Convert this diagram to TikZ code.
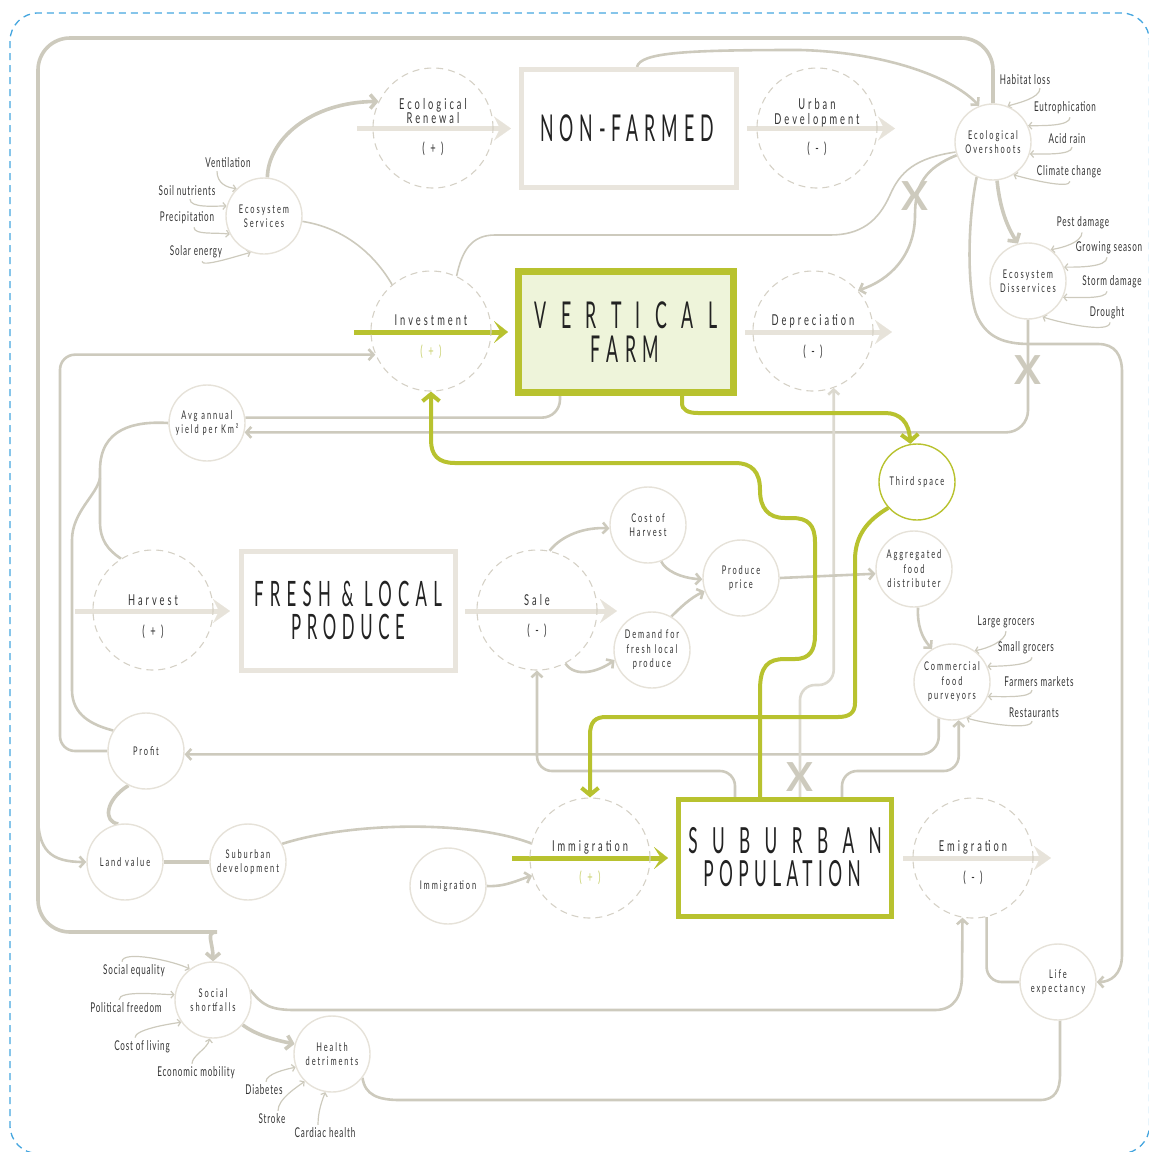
\documentclass[tikz,border=0pt]{standalone}
\usepackage{fontspec}
\usetikzlibrary{arrows.meta,calc}
\setmainfont{Lato}
\newfontfamily\lblfont{Lato}[FakeStretch=0.6,LetterSpace=6]
\newfontfamily\auxfont{Lato}[FakeStretch=0.62,LetterSpace=16]
\newfontfamily\ratefont{Lato}[FakeStretch=0.62,LetterSpace=20]
\newfontfamily\stockfont{Lato}[FakeStretch=0.48]
\newfontfamily\crossfont{Lato}
\newcommand\stocktitle[3]{{\stockfont\addfontfeatures{LetterSpace=#1}\fontsize{#2}{#2}\selectfont #3}}

\definecolor{linec}{HTML}{CDCABD}
\definecolor{lightlinec}{HTML}{DCD9CF}
\definecolor{greenc}{HTML}{B8C22F}
\definecolor{greenfill}{HTML}{EEF4DA}
\definecolor{signgreen}{HTML}{C9D170}
\definecolor{stockc}{HTML}{E9E5DD}
\definecolor{flowc}{HTML}{E7E3DA}
\definecolor{dashc}{HTML}{D5D1C6}
\definecolor{auxc}{HTML}{E6E2D9}
\definecolor{txtc}{HTML}{333333}
\definecolor{titlec}{HTML}{222222}
\definecolor{bluec}{HTML}{45A6DF}

\pgfdeclarelayer{bg}
\pgfsetlayers{bg,main}

\tikzset{
  rate/.style={circle, draw=dashc, line width=1.1pt, dash pattern=on 7pt off 5pt, minimum size=120pt, inner sep=0pt},
  aux/.style={circle, draw=auxc, fill=white, line width=1.4pt, minimum size=76pt, inner sep=0pt, align=center, text=txtc, font=\auxfont\fontsize{12}{14.5}\selectfont},
  greenaux/.style={aux, draw=greenc},
  stockbox/.style={rectangle, draw=stockc, line width=5pt, inner sep=0pt},
  farmbox/.style={rectangle, draw=greenc, fill=greenfill, line width=7pt, inner sep=0pt},
  popbox/.style={rectangle, draw=greenc, fill=white, line width=5pt, inner sep=0pt},
  stocktext/.style={text=titlec, inner sep=0pt},
  ratetext/.style={text=txtc, inner sep=0pt, align=center, font=\ratefont\fontsize{15}{14.5}\selectfont},
  signtext/.style={text=txtc, inner sep=0pt, font=\ratefont\fontsize{15}{15}\selectfont},
  lbl/.style={text=txtc, inner sep=0pt, font=\lblfont\fontsize{13.5}{15}\selectfont},
  crossmark/.style={text=linec, inner sep=0pt, font=\crossfont\bfseries\fontsize{40}{40}\selectfont},
  flow/.style={draw=flowc, line width=5pt, -{Stealth[length=17pt, width=24pt, inset=6pt, line width=0.1pt]}},
  greenflow/.style={draw=greenc, line width=5pt, -{Stealth[length=14pt, width=22pt, inset=7pt, line width=0.1pt]}},
  conn/.style={draw=linec, line width=2.6pt},
  connthick/.style={draw=linec, line width=3.6pt},
  connthin/.style={draw=linec, line width=1.6pt},
  connlight/.style={draw=lightlinec, line width=2.6pt},
  tip/.style={-{Straight Barb[length=5pt, width=11pt]}},
  bigtip/.style={-{Straight Barb[length=6pt, width=14pt]}},
  feed/.style={draw=linec, line width=1.2pt, -{Straight Barb[length=3pt, width=7pt]}},
  greenline/.style={draw=greenc, line width=4pt},
  greentip/.style={-{Straight Barb[length=7pt, width=17pt]}},
}

\begin{document}
\begin{tikzpicture}[x=1pt,y=-1pt]
\useasboundingbox (0,0) rectangle (1149,1152);

% ---------- stocks ----------
\node[stockbox, minimum width=215pt, minimum height=118pt] (nf) at (629,128.5) {};
\node[farmbox,  minimum width=215pt, minimum height=121pt] (vf) at (626,332) {};
\node[stockbox, minimum width=214pt, minimum height=119pt] (fr) at (348.5,611) {};
\node[popbox,   minimum width=213pt, minimum height=117pt] (sp) at (785,858) {};

\node[stocktext] (nft)  at (627,128)   {\stocktitle{16}{37}{NON-FARMED}};
\node[stocktext] (vft1) at (626,315)   {\stocktitle{39}{37}{VERTICAL}};
\node[stocktext] (vft2) at (625,349.5) {\stocktitle{18}{37}{FARM}};
\node[stocktext] (frt1) at (348,594)   {\stocktitle{18}{35}{FRESH \& LOCAL}};
\node[stocktext] (frt2) at (348,627)   {\stocktitle{16}{35}{PRODUCE}};
\node[stocktext] (spt1) at (785,841)   {\stocktitle{40}{36}{SUBURBAN}};
\node[stocktext] (spt2) at (782,874)   {\stocktitle{15}{36}{POPULATION}};

% ---------- rates ----------
\node[rate] (ren) at (433,128) {};
\node[rate] (urb) at (817,128) {};
\node[rate] (inv) at (431,331) {};
\node[rate] (dep) at (813,331) {};
\node[rate] (hv)  at (153,610) {};
\node[rate] (sa)  at (537,610) {};
\node[rate] (im)  at (590,858) {};
\node[rate] (em)  at (973,858) {};

\node[ratetext] (renl) at (433,111) {Ecological\\Renewal};
\node[signtext] (rens) at (433,149) {( + )};
\node[ratetext] (urbl) at (817,113) {Urban\\Development};
\node[signtext] (urbs) at (817,149) {( - )};
\node[ratetext] (invl) at (431,320) {Investment};
\node[signtext, text=signgreen] (invs) at (431,352) {( + )};
\node[ratetext] (depl) at (813,321) {Depreciation};
\node[signtext] (deps) at (813,352) {( - )};
\node[ratetext] (hvl) at (153,600) {Harvest};
\node[signtext] (hvs) at (153,632) {( + )};
\node[ratetext] (sal) at (537,600) {Sale};
\node[signtext] (sas) at (537,631) {( - )};
\node[ratetext] (iml) at (590,847) {Immigration};
\node[signtext, text=signgreen] (ims2) at (590,878) {( + )};
\node[ratetext] (eml) at (973,847) {Emigration};
\node[signtext] (ems) at (973,878) {( - )};

% ---------- auxiliaries ----------
\node[aux] (es)  at (264,216)  {Ecosystem\\Services};
\node[aux] (eo)  at (993,142)  {Ecological\\Overshoots};
\node[aux] (ed)  at (1028,281) {Ecosystem\\Disservices};
\node[aux] (ay)  at (207,423)  {Avg annual\\yield per Km²};
\node[greenaux] (ts) at (917,482) {Third space};
\node[aux] (ch)  at (648,525)  {Cost of\\Harvest};
\node[aux] (pp)  at (741,578)  {Produce\\price};
\node[aux] (dm)  at (652,650)  {Demand for\\fresh local\\produce};
\node[aux] (ag)  at (914,569)  {Aggregated\\food\\distributer};
\node[aux] (cf)  at (952,682)  {Commercial\\food\\purveyors};
\node[aux] (pr)  at (146,751)  {Profit};
\node[aux] (lv)  at (125,862)  {Land value};
\node[aux] (sd)  at (248,862)  {Suburban\\development};
\node[aux] (ims) at (448,886)  {Immigration};
\node[aux] (le)  at (1058,982) {Life\\expectancy};
\node[aux] (ss)  at (213,1000) {Social\\shortfalls};
\node[aux] (hd)  at (332,1054) {Health\\detriments};

% ---------- input labels ----------
\node[lbl] (vent) at (228,163) {Ventilation};
\node[lbl] (soil) at (187,191) {Soil nutrients};
\node[lbl] (prec) at (187,218) {Precipitation};
\node[lbl] (solar) at (196,252) {Solar energy};
\node[lbl] (hab) at (1025,80) {Habitat loss};
\node[lbl] (eut) at (1065,108) {Eutrophication};
\node[lbl] (acid) at (1067,139) {Acid rain};
\node[lbl] (clim) at (1069,172) {Climate change};
\node[lbl] (pest) at (1083,223) {Pest damage};
\node[lbl] (grow) at (1109,248) {Growing season};
\node[lbl] (storm) at (1112,282) {Storm damage};
\node[lbl] (drought) at (1107,313) {Drought};
\node[lbl] (lgro) at (1006,622) {Large grocers};
\node[lbl] (sgro) at (1026,648) {Small grocers};
\node[lbl] (fmk) at (1039,682) {Farmers markets};
\node[lbl] (rest) at (1034,713) {Restaurants};
\node[lbl] (seq) at (134,971) {Social equality};
\node[lbl] (pol) at (126,1008) {Political freedom};
\node[lbl] (col) at (142,1047) {Cost of living};
\node[lbl] (eco) at (196,1073) {Economic mobility};
\node[lbl] (diab) at (264,1090) {Diabetes};
\node[lbl] (strk) at (272,1119) {Stroke};
\node[lbl] (card) at (325,1133) {Cardiac health};

% ---------- free ends ----------
\coordinate (renin) at (357,128.5);
\coordinate (urbout) at (895,128.5);
\coordinate (invin) at (354,332);
\coordinate (depout) at (892,332);
\coordinate (hvin) at (75,611);
\coordinate (saout) at (617,611);
\coordinate (imin) at (512,858);
\coordinate (emout) at (1051,858);
\coordinate (lvbranch) at (38,815);
\coordinate (ybr) at (100,478);

\begin{pgfonlayer}{bg}
% flows through the rates
\draw[flow, shorten >=8pt] (renin) -- (nf.west);
\draw[flow, shorten <=8pt] (nf.east) -- (urbout);
\draw[flow, shorten <=8pt] (vf.east) -- (depout);
\draw[flow, shorten >=9pt] (hvin) -- (fr.west);
\draw[flow, shorten <=7pt] (fr.east) -- (saout);
\draw[flow, shorten <=9pt] (sp.east) -- (emout);

% outer loop from the overshoots
\draw[connthick, bigtip, rounded corners=32pt] (eo.north) -- (993,38) -- (38,38) -- (38,932) -- (185,932) .. controls (205,932) and (213,942) .. (ss.north);
\draw[conn, tip] (lvbranch) .. controls (38,850) and (50,862) .. (lv.west);

% ecosystem services
\draw[connthick, bigtip] (es.85) .. controls (268,140) and (310,102) .. (ren.154);
\draw[connthin] (es.-8) .. controls (345,228) and (375,255) .. (inv.130);

% overshoots
\draw[connthin] (eo.195) .. controls (915,158) and (900,172) .. (890,195) .. controls (878,222) and (860,235) .. (830,235) -- (495,235) .. controls (472,235) and (462,250) .. (inv.65);
\draw[conn, tip] (eo.200) .. controls (925,168) and (915,185) .. (915,215) .. controls (915,255) and (890,280) .. (dep.42);
\draw[conn, tip] ([xshift=8pt]nf.north) .. controls (640,52) and (690,50) .. (800,50) .. controls (880,52) and (950,75) .. (eo.111);
\draw[connthick, bigtip] (eo.-84) .. controls (1000,210) and (1008,228) .. (ed.105);
\draw[conn, tip, rounded corners=22pt] (ed.south) |- (ay.-14);
\draw[conn, tip] (eo.245) .. controls (966,230) and (968,300) .. (978,318) .. controls (988,338) and (1005,344) .. (1030,344) -- (1098,344) .. controls (1115,344) and (1122,355) .. (1122,372) -- (1122,955) .. controls (1122,975) and (1110,982) .. (le.east);

% yield, harvest, profit
\draw[conn, rounded corners=18pt] ([xshift=-66pt]vf.south) |- (ay.8);
\draw[conn] (ay.west) .. controls (135,421) and (100,428) .. (100,470) -- (100,522) .. controls (100,540) and (108,550) .. (hv.122);
\draw[conn] (ybr) .. controls (97,495) and (72,512) .. (72,540) -- (72,690) .. controls (72,715) and (92,725) .. (pr.148);
\draw[conn, tip, rounded corners=15pt] (pr.180) -- (60,751) |- (inv.203);
\draw[connthick] (pr.243) .. controls (105,800) and (103,822) .. (lv.100);
\draw[connthick] (lv.east) -- (sd.west);
\draw[conn] (sd.28) .. controls (350,822) and (470,820) .. (im.166);
\draw[conn, tip] (ims.east) .. controls (505,887) and (518,880) .. (im.197);

% sale and produce price
\draw[conn, tip, rounded corners=15pt] ([xshift=-50pt]sp.north) -- ++(0,-26) -| (sa.south);
\draw[conn, tip, rounded corners=18pt] (cf.250) |- (pr.-5);
\draw[conn, tip, rounded corners=15pt] ([xshift=57pt]sp.north) -- ++(0,-26) -| (cf.-80);
\draw[connlight, tip, rounded corners=15pt] ([xshift=15pt]sp.north) -- ++(0,-112) -| (dep.-70);
\draw[conn, tip] (pp.east) -- (ag.187);
\draw[conn, tip] (ag.-84) .. controls (917,625) and (922,638) .. (cf.121);
\draw[conn, tip] (ch.-70) .. controls (665,570) and (680,578) .. (pp.182);
\draw[conn, tip] (dm.60) .. controls (680,608) and (690,598) .. (pp.200);
\draw[conn, tip] (sa.78) .. controls (562,535) and (585,527) .. (ch.185);
\draw[conn, tip] (sa.-62) .. controls (575,678) and (598,672) .. (dm.195);

% population outcomes
\draw[conn, rounded corners=15pt] (le.west) -| (em.-77);
\draw[conn, tip] (ss.15) .. controls (262,1005) and (270,1010) .. (295,1010) -- (935,1010) .. controls (955,1010) and (962,995) .. (962,975) -- (em.-100);
\draw[conn] (hd.-38) .. controls (365,1095) and (378,1100) .. (400,1100) -- (1040,1100) .. controls (1055,1100) and (1060,1090) .. (1060,1075) -- (le.-87);
\draw[connthick, bigtip] (ss.-40) .. controls (256,1035) and (275,1040) .. (hd.165);

% feeding factors
\draw[feed] ([xshift=-11pt,yshift=-3pt]vent.south) .. controls +(0,12) and +(-10,-1) .. (es.135);
\draw[feed] ([xshift=3pt,yshift=-3pt]soil.south) .. controls +(0,9) and +(-12,0) .. (es.165);
\draw[feed] ([xshift=7pt,yshift=-3pt]prec.south) .. controls +(0,8) and +(-14,-2) .. (es.208);
\draw[feed] ([xshift=6pt,yshift=-3pt]solar.south) .. controls +(0,6) and +(-15,4) .. (es.250);
\draw[feed] ([xshift=15pt,yshift=-3pt]hab.south) .. controls +(0,10) and +(10,-3) .. (eo.68);
\draw[feed] ([xshift=5pt,yshift=-3pt]eut.south) .. controls +(0,9) and +(14,0) .. (eo.25);
\draw[feed] ([xshift=5pt,yshift=-3pt]acid.south) .. controls +(0,8) and +(14,0) .. (eo.-18);
\draw[feed] ([xshift=1pt,yshift=-3pt]clim.south) .. controls +(0,8) and +(14,4) .. (eo.-58);
\draw[feed] ([xshift=-1pt,yshift=-3pt]pest.south) .. controls +(0,10) and +(12,-2) .. (ed.54);
\draw[feed] ([xshift=-2pt,yshift=-3pt]grow.south) .. controls +(0,10) and +(14,0) .. (ed.21);
\draw[feed] ([xshift=-5pt,yshift=-3pt]storm.south) .. controls +(0,8) and +(14,0) .. (ed.-25);
\draw[feed] ([xshift=3pt,yshift=-3pt]drought.south) .. controls +(0,12) and +(15,5) .. (ed.-68);
\draw[feed] ([xshift=0pt,yshift=-3pt]lgro.south) .. controls +(0,10) and +(12,-2) .. (cf.54);
\draw[feed] ([xshift=6pt,yshift=-3pt]sgro.south) .. controls +(0,8) and +(14,0) .. (cf.24);
\draw[feed] ([xshift=-7pt,yshift=-3pt]fmk.south) .. controls +(0,8) and +(14,0) .. (cf.-22);
\draw[feed] ([xshift=-2pt,yshift=-3pt]rest.south) .. controls +(0,10) and +(15,5) .. (cf.-68);
\draw[feed] ([xshift=-12pt,yshift=3pt]seq.north) .. controls +(0,-12) and +(-15,-8) .. (ss.127);
\draw[feed] ([xshift=-7pt,yshift=3pt]pol.north) .. controls +(0,-10) and +(-14,0) .. (ss.172);
\draw[feed] ([xshift=-7pt,yshift=3pt]col.north) .. controls +(0,-8) and +(-14,2) .. (ss.215);
\draw[feed] ([xshift=-4pt,yshift=3pt]eco.north) .. controls +(0,-8) and +(-2,10) .. (ss.-95);
\draw[feed] ([xshift=2pt,yshift=3pt]diab.north) .. controls +(0,-8) and +(-10,2) .. (hd.200);
\draw[feed] ([xshift=6pt,yshift=3pt]strk.north) .. controls +(0,-12) and +(-8,6) .. (hd.225);
\draw[feed] ([xshift=-7pt,yshift=3pt]card.north) .. controls +(0,-14) and +(-3,8) .. (hd.-100);

% green links around the vertical farm
\draw[greenflow, shorten >=7pt] (invin) -- (vf.west);
\draw[greenflow, shorten >=8pt] (imin) -- (sp.west);
\draw[greenline, greentip] ([xshift=-25pt]sp.north) -- (760,690) .. controls (760,666) and (768,659) .. (785,659) -- (795,659) .. controls (810,659) and (815,650) .. (815,635) -- (815,542) .. controls (815,525) and (808,518) .. (792,518) -- (785,518) .. controls (768,518) and (760,508) .. (760,490) .. controls (760,472) and (752,463) .. (735,463) -- (455,463) .. controls (438,463) and (431,455) .. (431,440) -- (inv.south);
\draw[greenline, greentip] (ts.222) .. controls (868,520) and (855,535) .. (855,560) -- (855,703) .. controls (855,713) and (849,717) .. (838,717) -- (606,717) .. controls (595,717) and (590,722) .. (590,735) -- (im.north);
\draw[greenline, greentip] ([xshift=56pt]vf.south) -- (682,403) .. controls (682,410) and (688,413) .. (698,413) -- (885,413) .. controls (900,413) and (909,422) .. (ts.100);
\end{pgfonlayer}

% blocked links
\node[crossmark] (x1) at (915,196) {X};
\node[crossmark] (x2) at (1028,370) {X};
\node[crossmark] (x3) at (800,777) {X};

% frame
\draw[bluec, line width=1.3pt, dash pattern=on 7pt off 5pt, rounded corners=28pt] (10,13) rectangle (1149.5,1153.5);
\end{tikzpicture}
\end{document}
